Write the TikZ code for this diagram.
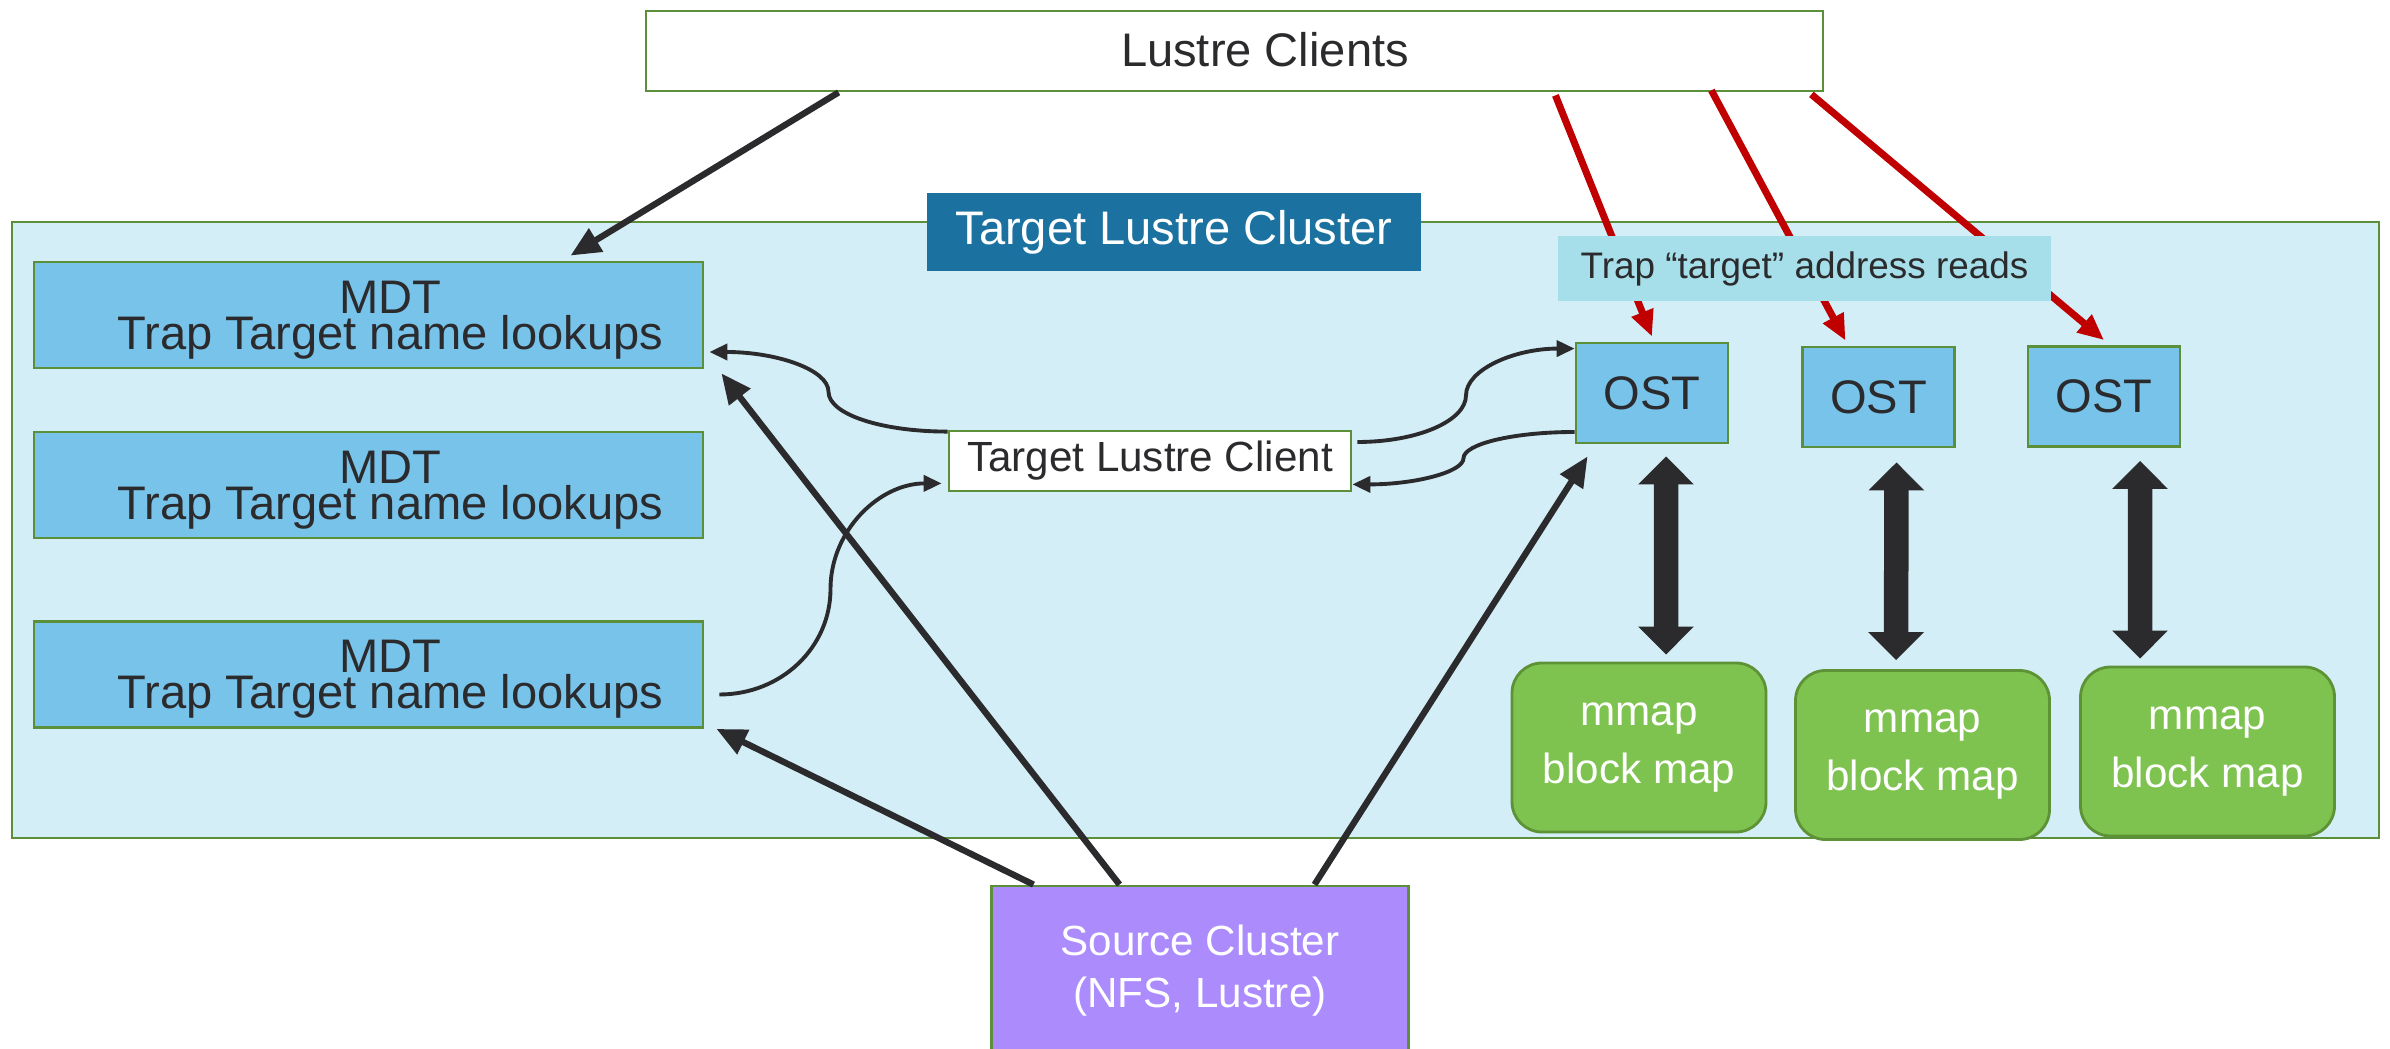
\documentclass[tikz,border=0pt]{standalone}
\usepackage{fontspec}
\setmainfont{Liberation Sans}
\usetikzlibrary{arrows.meta,calc}

\definecolor{bordergreen}{HTML}{5B8F3A}
\definecolor{clusterbg}{HTML}{D3EEF6}
\definecolor{mdtblue}{HTML}{77C3EA}
\definecolor{trapcyan}{HTML}{A6DFEA}
\definecolor{titleblue}{HTML}{1B72A0}
\definecolor{srcpurple}{HTML}{AC8CFD}
\definecolor{mmapgreen}{HTML}{7EC350}
\definecolor{mmapedge}{HTML}{5E9236}
\definecolor{inkdark}{HTML}{2B2B2E}
\definecolor{trapred}{HTML}{C00000}

\begin{document}
\begin{tikzpicture}[every node/.style={text=inkdark,font=\fontsize{13.4}{16}\selectfont},
                    box/.style={draw=bordergreen,line width=0.8pt,inner sep=0pt},
                    mdt/.style={box,fill=mdtblue,minimum width=6.69cm,minimum height=1.06cm},
                    mdttxt/.style={align=center,inner sep=0pt,font=\fontsize{13.4}{10.2}\selectfont},
                    ost/.style={box,fill=mdtblue,minimum width=1.52cm,minimum height=1.0cm},
                    mmap/.style={draw=mmapedge,line width=0.8pt,fill=mmapgreen,rounded corners=0.3cm,
                                 minimum width=2.54cm,minimum height=1.69cm,text=white,align=center,
                                 font=\fontsize{12}{16.5}\selectfont},
                    feed/.style={-{Triangle[length=3mm,width=2.6mm]},line width=1.8pt,draw=inkdark},
                    trap/.style={-{Triangle[length=2.6mm,width=2.2mm]},line width=2pt,draw=trapred},
                    hop/.style={-{Triangle[length=1.8mm,width=1.6mm]},line width=1.1pt,draw=inkdark},
                    blockio/.style={{Triangle[length=2.8mm,width=5.4mm]}-{Triangle[length=2.8mm,width=5.4mm]},
                                    line width=2.45mm,draw=inkdark}]

  \useasboundingbox (0,0) rectangle (23.9,-10.49);

  % target cluster
  \node[box,fill=clusterbg,minimum width=23.67cm,minimum height=6.16cm] (cluster) at (11.955,-5.30) {};
  \node[fill=titleblue,text=white,inner sep=0pt,minimum width=4.94cm,minimum height=0.78cm] (title) at (11.74,-2.32) {Target Lustre Cluster};

  % clients on top
  \node[box,fill=white,minimum width=11.77cm,minimum height=0.80cm] (clients) at (12.345,-0.51) {};
  \node (clientstxt) at (12.65,-0.50) {Lustre Clients};

  % metadata targets
  \node[mdt] (mdt1) at (3.685,-3.15) {};
  \node[mdttxt] (mdt1txt) at ([xshift=2.2mm,yshift=-0.5mm]mdt1.center) {MDT\\Trap Target name lookups};
  \node[mdt] (mdt2) at (3.685,-4.85) {};
  \node[mdttxt] (mdt2txt) at ([xshift=2.2mm,yshift=-0.5mm]mdt2.center) {MDT\\Trap Target name lookups};
  \node[mdt] (mdt3) at (3.685,-6.745) {};
  \node[mdttxt] (mdt3txt) at ([xshift=2.2mm,yshift=-0.5mm]mdt3.center) {MDT\\Trap Target name lookups};

  \node[box,fill=white,minimum width=4.02cm,minimum height=0.60cm,font=\fontsize{12}{14}\selectfont] (tclient) at (11.50,-4.61) {Target Lustre Client};

  % object targets
  \node[ost] (ost1) at (16.52,-3.93) {OST};
  \node[ost] (ost2) at (18.785,-3.97) {OST};
  \node[ost] (ost3) at (21.04,-3.965) {OST};

  \node[mmap] (mmap1) at (16.39,-7.475) {mmap\\block map};
  \node[mmap] (mmap2) at (19.225,-7.55) {mmap\\block map};
  \node[mmap] (mmap3) at (22.075,-7.515) {mmap\\block map};

  \node[box,fill=srcpurple,text=white,align=center,minimum width=4.17cm,minimum height=1.70cm,
        font=\fontsize{12}{14.8}\selectfont] (source) at (12.0,-9.71) {Source Cluster\\(NFS, Lustre)};

  % straight feeds
  \path ([xshift=1.94cm]clients.south west) edge[feed] ([xshift=2.02cm,yshift=0.5mm]mdt1.north)
        ([xshift=-1.665cm]source.north) edge[feed] ([xshift=1.2mm]mdt3.south east)
        ([xshift=-0.805cm]source.north) edge[feed] ([xshift=1.7mm,yshift=-0.4mm]mdt1.south east)
        ([xshift=1.145cm]source.north) edge[feed] ([xshift=1.3mm,yshift=-1.2mm]ost1.south west);

  % target client hops
  \coordinate (hopAs) at ([yshift=-0.2mm]tclient.north west);
  \coordinate (hopAe) at ([xshift=0.5mm,yshift=-3.7mm]mdt1.east);
  \coordinate (hopBs) at ([xshift=1.5mm,yshift=-2mm]mdt3.east);
  \coordinate (hopBe) at ([xshift=-0.6mm,yshift=0.9mm]tclient.south west);
  \coordinate (hopCs) at ([xshift=0.5mm,yshift=1.9mm]tclient.east);
  \coordinate (hopCe) at ([yshift=-0.7mm]ost1.north west);
  \coordinate (hopDs) at ([yshift=-3.9mm]ost1.west);
  \coordinate (hopDe) at ([yshift=0.8mm]tclient.south east);

  \draw[hop] (hopAs) to[out=180,in=-90,out distance=0.665cm,in distance=0.224cm] ($(hopAs)!0.5!(hopAe)$)
                     to[out=90,in=0,out distance=0.224cm,in distance=0.665cm] (hopAe);
  \draw[hop] (hopBs) to[out=0,in=-90,out distance=0.62cm,in distance=0.585cm] ($(hopBs)!0.5!(hopBe)$)
                     to[out=90,in=180,out distance=0.585cm,in distance=0.62cm] (hopBe);
  \draw[hop] (hopCs) to[out=0,in=-90,out distance=0.607cm,in distance=0.254cm] ($(hopCs)!0.5!(hopCe)$)
                     to[out=90,in=180,out distance=0.254cm,in distance=0.607cm] (hopCe);
  \draw[hop] (hopDs) to[out=180,in=90,out distance=0.62cm,in distance=0.14cm] ($(hopDs)!0.5!(hopDe)$)
                     to[out=-90,in=0,out distance=0.14cm,in distance=0.62cm] (hopDe);

  % address reads
  \path ([xshift=-2.69cm,yshift=-0.3mm]clients.south east) edge[trap] ([yshift=0.5mm]ost1.north)
        ([xshift=-1.13cm,yshift=0.2mm]clients.south east) edge[trap] ([xshift=-3.3mm,yshift=0.5mm]ost2.north)
        ([xshift=-1.3mm,yshift=-0.2mm]clients.south east) edge[trap] ([yshift=0.5mm]ost3.north);

  \node[fill=trapcyan,inner sep=0pt,minimum width=4.93cm,minimum height=0.65cm,
        font=\fontsize{10.5}{12}\selectfont] (traplbl) at (18.045,-2.685) {Trap “target” address reads};

  % block map links
  \path ([xshift=1.4mm,yshift=-1.2mm]ost1.south) edge[blockio] ([xshift=2.7mm,yshift=0.7mm]mmap1.north)
        ([xshift=1.8mm,yshift=-1.4mm]ost2.south) edge[blockio] ([xshift=-2.65mm,yshift=0.9mm]mmap2.north)
        ([xshift=3.6mm,yshift=-1.3mm]ost3.south) edge[blockio] ([xshift=-6.75mm,yshift=0.7mm]mmap3.north);

\end{tikzpicture}
\end{document}
